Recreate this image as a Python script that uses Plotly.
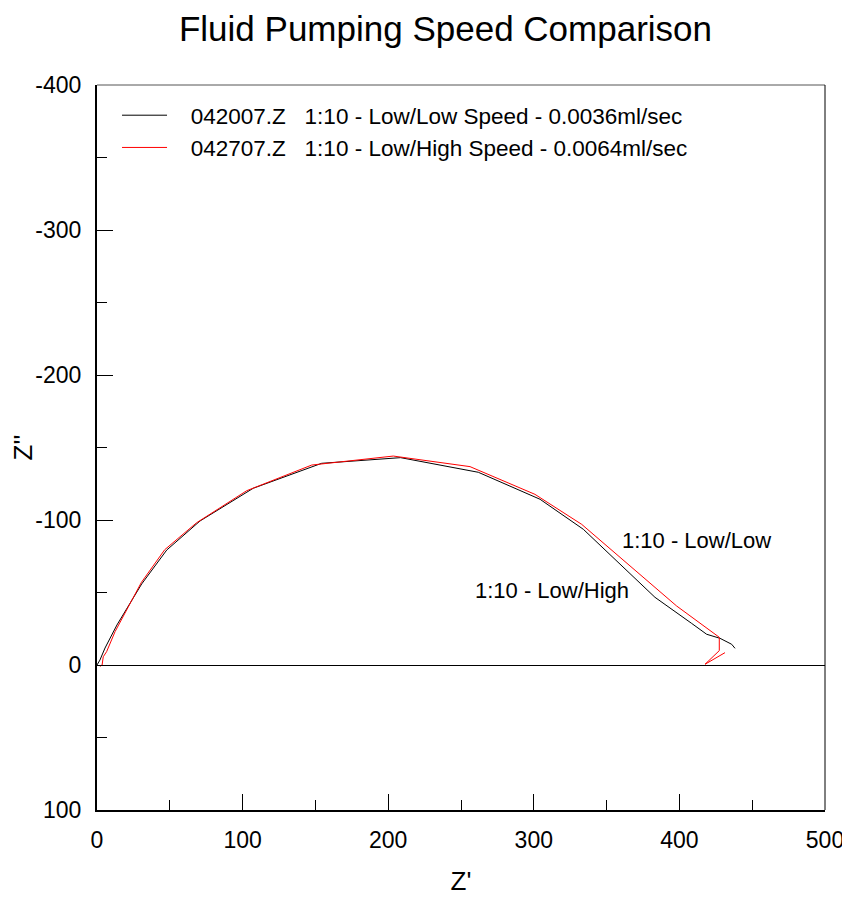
import plotly.graph_objects as go

# Data (Nyquist plot: Z' vs Z'')
low_low_x = [0, 2, 5.5, 13.7, 30.7, 47.9, 70.7, 107.3, 154.3, 208.5, 261.9, 304.3, 334, 383.2, 408.4, 418.7, 427.9, 435.9, 438.2]
low_low_y = [0, -3.4, -11.7, -27.6, -55.9, -79.3, -99.3, -121.9, -139.1, -143, -132.9, -114.3, -93.6, -46.7, -28.7, -21.2, -18.4, -14.3, -11.5]

low_high_x = [2, 3.5, 4.3, 6.6, 12.4, 23.8, 30.5, 46.5, 68.4, 102.8, 147.5, 203.5, 256.2, 300.8, 332.9, 398.1, 427.4, 427.4, 417.6, 431.3]
low_high_y = [1, 0, -5.7, -9.2, -23, -44.8, -57, -79.5, -98.1, -120.2, -137.9, -144.1, -136.8, -117.7, -97, -40.7, -19.1, -9.9, -0.5, -8.5]

series_names = ["   042007.Z   1:10 - Low/Low Speed - 0.0036ml/sec",
                "   042707.Z   1:10 - Low/High Speed - 0.0064ml/sec"]

x_ticks = [0, 100, 200, 300, 400, 500]
y_ticks = [-400, -300, -200, -100, 0, 100]
y_tick_labels = ["-400", "-300", "-200", "-100", "0", "100"]

FONT = "Arial, Liberation Sans, sans-serif"

fig = go.Figure()
fig.add_trace(go.Scatter(x=low_low_x, y=low_low_y, mode="lines",
                         line=dict(color="black", width=1), name=series_names[0]))
fig.add_trace(go.Scatter(x=low_high_x, y=low_high_y, mode="lines",
                         line=dict(color="red", width=1), name=series_names[1]))

fig.update_layout(
    width=850, height=899,
    margin=dict(l=89, r=33, t=77, b=97),
    paper_bgcolor="white", plot_bgcolor="white",
    font=dict(family=FONT, color="black", size=23),
    title=dict(text="Fluid Pumping Speed Comparison", x=437.5 / 850, xanchor="center",
               xref="container", y=1 - 21 / 899, yanchor="middle", yref="container",
               font=dict(size=35, family=FONT)),
    showlegend=True,
    legend=dict(x=0.0275, y=0.9875, xanchor="left", yanchor="top",
                bgcolor="rgba(0,0,0,0)", font=dict(size=22.5, family=FONT),
                tracegroupgap=0, itemwidth=45),
    xaxis=dict(range=[0, 500], tickvals=x_ticks, ticks="inside", ticklen=16,
               tickwidth=1, tickcolor="black", showgrid=False, zeroline=False,
               showline=True, linecolor="black", linewidth=2, automargin=False,
               minor=dict(ticks="inside", ticklen=10, tickwidth=1, tickcolor="black", dtick=50),
               title=dict(text="Z'", font=dict(size=26), standoff=20),
               ticklabelstandoff=8),
    yaxis=dict(range=[100, -400], tickvals=y_ticks, ticktext=y_tick_labels,
               ticks="inside", ticklen=16, tickwidth=1, tickcolor="black",
               showgrid=False, zeroline=True, zerolinecolor="black", zerolinewidth=1,
               showline=True, linecolor="black", linewidth=2, automargin=False,
               minor=dict(ticks="inside", ticklen=10, tickwidth=1, tickcolor="black", dtick=50),
               title=dict(text="Z''", font=dict(size=26), standoff=0),
               ticklabelstandoff=9),
    annotations=[
        dict(x=412, y=-86, xref="x", yref="y", text="1:10 - Low/Low", showarrow=False,
             font=dict(size=22, family=FONT)),
        dict(x=312.5, y=-51.7, xref="x", yref="y", text="1:10 - Low/High", showarrow=False,
             font=dict(size=22, family=FONT)),
    ],
    shapes=[
        dict(type="line", xref="paper", yref="paper", x0=0, x1=1, y0=1, y1=1,
             line=dict(color="#555555", width=1)),
        dict(type="line", xref="paper", yref="paper", x0=1, x1=1, y0=0, y1=1,
             line=dict(color="black", width=1)),
    ],
)

fig.write_html("out.html")
